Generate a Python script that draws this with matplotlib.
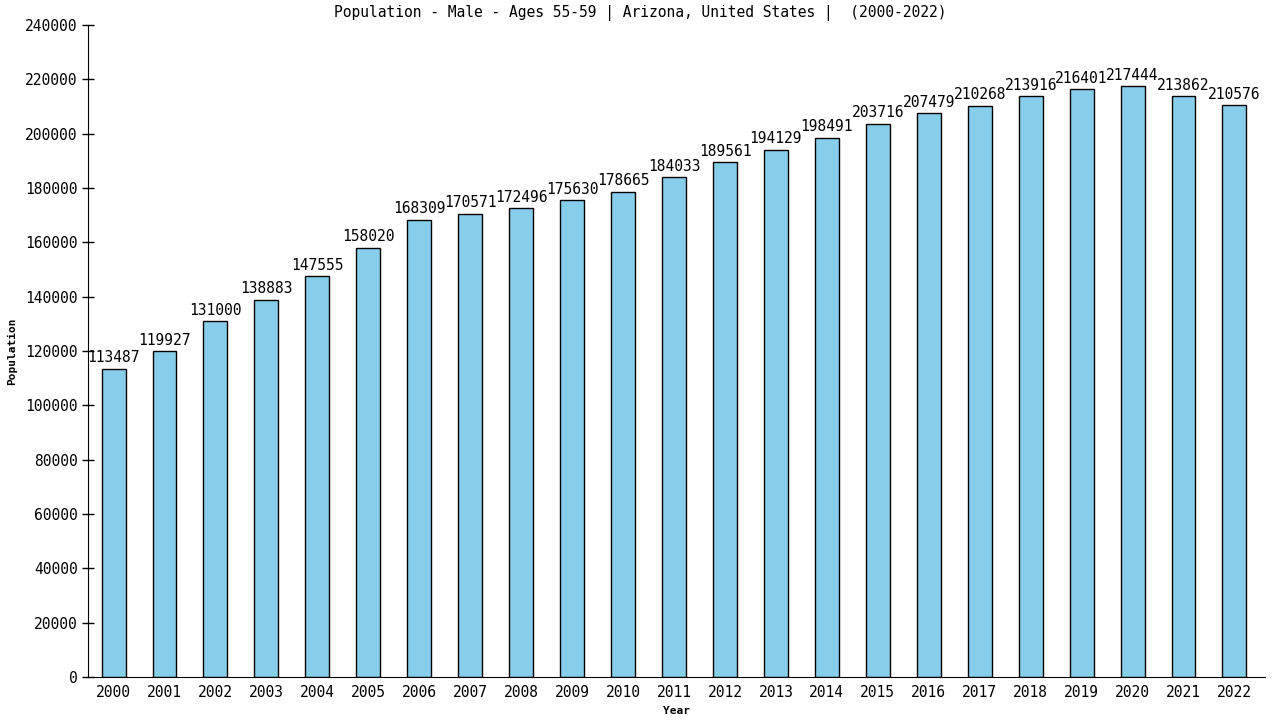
import matplotlib
matplotlib.use("Agg")
import matplotlib.pyplot as plt

years = [str(y) for y in range(2000, 2023)]
values = [113487, 119927, 131000, 138883, 147555, 158020, 168309, 170571, 172496,
          175630, 178665, 184033, 189561, 194129, 198491, 203716, 207479, 210268,
          213916, 216401, 217444, 213862, 210576]
yticks = list(range(0, 240001, 20000))

plt.rcParams['font.family'] = ['DejaVu Sans Mono']
fig = plt.figure(figsize=(12.8, 7.2), dpi=100)
ax = fig.add_axes([0.0688, 0.0597, 0.9195, 0.9056])
x = list(range(len(years)))
ax.bar(x, values, width=0.47, color='#87ceeb', edgecolor='black', linewidth=1)
for xi, v in zip(x, values):
    ax.text(xi, v + 1200, str(v), ha='center', va='bottom', fontsize=10.5)
ax.set_xlim(-0.5, 22.6)
ax.set_ylim(0, 240000)
ax.set_yticks(yticks)
ax.set_yticklabels([str(t) for t in yticks], fontsize=10.5)
ax.set_xticks(x)
ax.set_xticklabels(years, fontsize=10.5)
ax.tick_params(axis='y', direction='inout', length=8, width=1)
ax.tick_params(axis='x', length=0, pad=6)
for s in ['top', 'right']:
    ax.spines[s].set_visible(False)
fig.text(0.5, 1 - 13 / 720,
         'Population - Male - Ages 55-59 | Arizona, United States |  (2000-2022)',
         fontsize=10.5, ha='center', va='center')
ax.set_ylabel('Population', fontsize=8, fontweight='bold', labelpad=6)
ax.set_xlabel('Year', fontsize=8, fontweight='bold', labelpad=4)
fig.savefig('out.png', dpi=100)
